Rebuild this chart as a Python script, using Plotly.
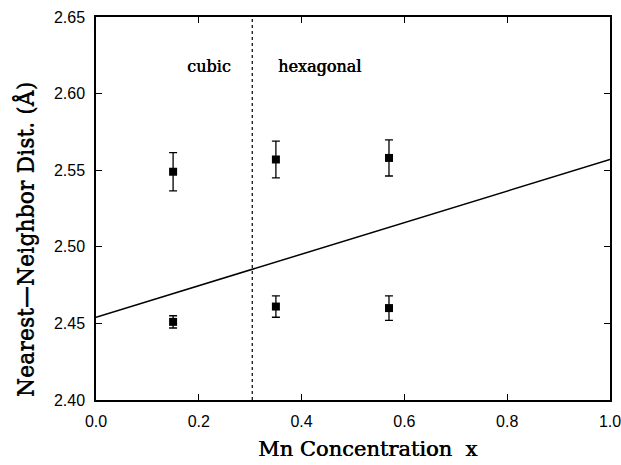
import plotly.graph_objects as go

# Measured nearest-neighbour distances vs Mn concentration
conc = [0.15, 0.35, 0.57]
dist_long = [2.549, 2.557, 2.558]
err_long = [0.0125, 0.0120, 0.0118]
dist_short = [2.451, 2.461, 2.460]
err_short = [0.004, 0.007, 0.008]

# Straight reference line across the full range
line_x = [0.0, 1.0]
line_y = [2.454, 2.557]

# Cubic / hexagonal phase boundary
boundary_x = 0.304
phase_labels = ["cubic", "hexagonal"]
phase_label_x = [0.219, 0.435]
phase_label_y = 2.618

x_ticks = [0.0, 0.2, 0.4, 0.6, 0.8, 1.0]
y_ticks = [2.40, 2.45, 2.50, 2.55, 2.60, 2.65]

x_title = "Mn Concentration  x"
y_title = "Nearest\u2014Neighbor Dist. (\u00c5)"

serif = "DejaVu Serif"
sans = "Liberation Sans"
heavy = "0.6px 0px 0px black"  # thickens the serif strokes a little

fig = go.Figure()

fig.add_trace(go.Scatter(
    x=line_x, y=line_y, mode="lines",
    line=dict(color="black", width=1.5), showlegend=False))

fig.add_trace(go.Scatter(
    x=[boundary_x, boundary_x], y=[2.40, 2.65], mode="lines",
    line=dict(color="black", width=1.2, dash="dot"), showlegend=False))

for ys, es in [(dist_long, err_long), (dist_short, err_short)]:
    fig.add_trace(go.Scatter(
        x=conc, y=ys, mode="markers",
        marker=dict(symbol="square", size=8, color="black"),
        error_y=dict(type="data", array=es, visible=True,
                     color="black", thickness=1.3, width=4),
        showlegend=False))

for txt, xx in zip(phase_labels, phase_label_x):
    fig.add_annotation(x=xx, y=phase_label_y, text=txt,
                       showarrow=False,
                       font=dict(family=serif, size=16, color="black",
                                 shadow=heavy),
                       xanchor="center", yanchor="middle")

# Axis titles placed as paper annotations
fig.add_annotation(xref="paper", yref="paper", x=0.529, y=-0.128,
                   text=x_title, showarrow=False,
                   font=dict(family=serif, size=21, color="black",
                             shadow=heavy),
                   xanchor="center", yanchor="middle")
fig.add_annotation(xref="paper", yref="paper", x=-0.138, y=0.418,
                   text=y_title, showarrow=False, textangle=-90,
                   font=dict(family=serif, size=22, color="black",
                             shadow="0px 0.6px 0px black"),
                   xanchor="center", yanchor="middle")

axis_common = dict(
    showgrid=False, zeroline=False, showline=True, linecolor="black",
    linewidth=1.5, mirror="ticks", ticks="inside", ticklen=6,
    tickwidth=1.2, tickcolor="black", automargin=False,
    ticklabeloverflow="allow",
    tickfont=dict(family=sans, size=16, color="black"))

fig.update_xaxes(range=[0, 1.0], tickvals=x_ticks,
                 ticktext=[f"{v:.1f}" for v in x_ticks],
                 ticklabelstandoff=6, **axis_common)
fig.update_yaxes(range=[2.40, 2.65], tickvals=y_ticks,
                 ticktext=[f"{v:.2f}" for v in y_ticks],
                 ticklabelstandoff=6, **axis_common)

fig.update_layout(
    width=621, height=465,
    margin=dict(l=96, r=11, t=17, b=65),
    paper_bgcolor="white", plot_bgcolor="white")

fig.write_html("out.html")
